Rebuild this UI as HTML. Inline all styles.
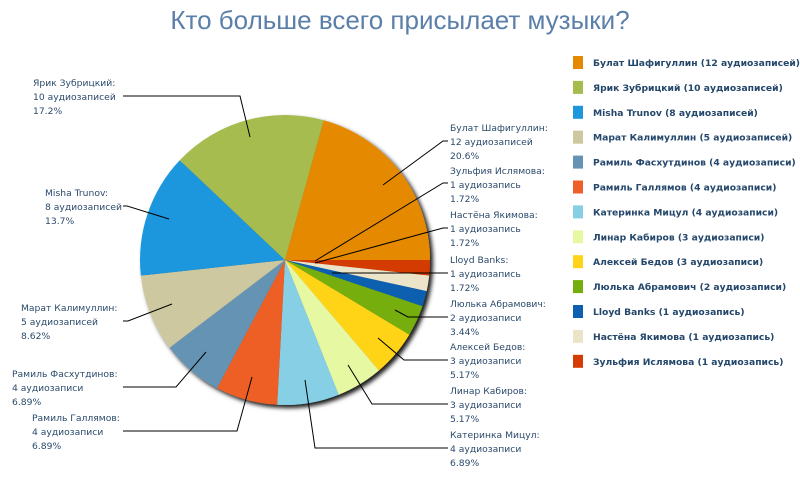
<!DOCTYPE html>
<html><head><meta charset="utf-8">
<style>
html,body{margin:0;padding:0;background:#fff;}
svg{display:block;}
.l{font-family:"DejaVu Sans","Liberation Sans",sans-serif;font-size:9.2px;fill:#2b4a6b;}
.g{font-family:"DejaVu Sans","Liberation Sans",sans-serif;font-size:9.2px;font-weight:bold;fill:#24476b;}
.ln{stroke:#000;stroke-width:1;fill:none;}
</style></head><body>
<svg id="s" width="800" height="500" viewBox="0 0 800 500" xmlns="http://www.w3.org/2000/svg">
<defs><filter id="sh" x="-20%" y="-20%" width="140%" height="140%"><feDropShadow dx="3" dy="3" stdDeviation="2.2" flood-color="#000" flood-opacity="0.9"/></filter></defs>
<text x="400" y="29" text-anchor="middle" font-family="Liberation Sans, sans-serif" font-size="26" fill="#5a7fa8">Кто больше всего присылает музыки?</text>
<g id="pie" filter="url(#sh)"></g>
<g>
<polyline class="ln" points="383,185 443,141 448,141"/>
<polyline class="ln" points="315,261 443,183 448,183"/>
<polyline class="ln" points="315,263 443,228 448,228"/>
<polyline class="ln" points="332,273 448,273"/>
<polyline class="ln" points="395,310 408,317 448,317"/>
<polyline class="ln" points="378,338 404,360 448,360"/>
<polyline class="ln" points="348,365 372,404 448,404"/>
<polyline class="ln" points="305,380 315,448 448,448"/>
<polyline class="ln" points="252,377 237,431 123,431"/>
<polyline class="ln" points="206,352 176,387 123,387"/>
<polyline class="ln" points="172,304 128,321 123,321"/>
<polyline class="ln" points="169,219 127,206 123,206"/>
<polyline class="ln" points="250,137 240,96 123,96"/>
</g>
<g class="l">
<text x="450" y="131">Булат Шафигуллин:</text><text x="450" y="145">12 аудиозаписей</text><text x="450" y="159">20.6%</text>
<text x="450" y="174">Зульфия Ислямова:</text><text x="450" y="188">1 аудиозапись</text><text x="450" y="202">1.72%</text>
<text x="450" y="218">Настёна Якимова:</text><text x="450" y="232">1 аудиозапись</text><text x="450" y="246">1.72%</text>
<text x="450" y="263">Lloyd Banks:</text><text x="450" y="277">1 аудиозапись</text><text x="450" y="291">1.72%</text>
<text x="450" y="307">Люлька Абрамович:</text><text x="450" y="321">2 аудиозаписи</text><text x="450" y="335">3.44%</text>
<text x="450" y="350">Алексей Бедов:</text><text x="450" y="364">3 аудиозаписи</text><text x="450" y="378">5.17%</text>
<text x="450" y="394">Линар Кабиров:</text><text x="450" y="408">3 аудиозаписи</text><text x="450" y="422">5.17%</text>
<text x="450" y="438">Катеринка Мицул:</text><text x="450" y="452">4 аудиозаписи</text><text x="450" y="466">6.89%</text>
<text x="33" y="86">Ярик Зубрицкий:</text><text x="33" y="100">10 аудиозаписей</text><text x="33" y="114">17.2%</text>
<text x="45" y="196">Misha Trunov:</text><text x="45" y="210">8 аудиозаписей</text><text x="45" y="224">13.7%</text>
<text x="21" y="311">Марат Калимуллин:</text><text x="21" y="325">5 аудиозаписей</text><text x="21" y="339">8.62%</text>
<text x="12" y="377">Рамиль Фасхутдинов:</text><text x="12" y="391">4 аудиозаписи</text><text x="12" y="405">6.89%</text>
<text x="32" y="421">Рамиль Галлямов:</text><text x="32" y="435">4 аудиозаписи</text><text x="32" y="449">6.89%</text>
</g>
<g id="leg"></g>
</svg>
<script>
var d=[["Зульфия Ислямова (1 аудиозапись)",1,"#d43b05"],["Настёна Якимова (1 аудиозапись)",1,"#ece4c8"],["Lloyd Banks (1 аудиозапись)",1,"#0d5fb0"],["Люлька Абрамович (2 аудиозаписи)",2,"#74ae0c"],["Алексей Бедов (3 аудиозаписи)",3,"#ffd319"],["Линар Кабиров (3 аудиозаписи)",3,"#e6f8a2"],["Катеринка Мицул (4 аудиозаписи)",4,"#86cfe5"],["Рамиль Галлямов (4 аудиозаписи)",4,"#ee5e28"],["Рамиль Фасхутдинов (4 аудиозаписи)",4,"#6593b4"],["Марат Калимуллин (5 аудиозаписей)",5,"#cdc8a0"],["Misha Trunov (8 аудиозаписей)",8,"#1e96dc"],["Ярик Зубрицкий (10 аудиозаписей)",10,"#a6bc4f"],["Булат Шафигуллин (12 аудиозаписей)",12,"#e58a00"]];
var cx=285,cy=260,r=145,a=0,h="";
d.forEach(function(e){var b=a+e[1]/58*2*Math.PI;var x1=cx+r*Math.cos(a),y1=cy+r*Math.sin(a),x2=cx+r*Math.cos(b),y2=cy+r*Math.sin(b);
h+='<path fill="'+e[2]+'" d="M'+cx+','+cy+'L'+x1+','+y1+'A'+r+','+r+' 0 '+((b-a)>Math.PI?1:0)+' 1 '+x2+','+y2+'Z"/>';a=b;});
document.getElementById("pie").innerHTML=h;
var lg="";d.slice().reverse().forEach(function(e,i){var y=62+i*24.9;lg+='<rect x="573" y="'+(y-6)+'" width="10" height="13" fill="'+e[2]+'"/><text class="g" x="593" y="'+(y+4)+'">'+e[0]+'</text>';});
document.getElementById("leg").innerHTML=lg;
</script>
</body></html>
